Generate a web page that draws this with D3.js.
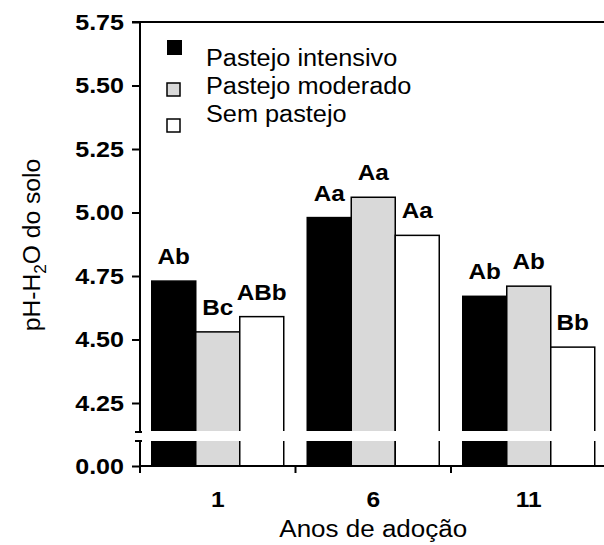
<!DOCTYPE html>
<html><head><meta charset="utf-8">
<script src="https://cdn.jsdelivr.net/npm/d3@7"></script>
<style>
body{margin:0;background:#fff;}
text{font-family:"Liberation Sans",Arial,sans-serif;}
</style></head>
<body><svg id="c" width="604" height="545"></svg>
<script>
const categories = ["1", "6", "11"];
const seriesNames = ["Pastejo intensivo", "Pastejo moderado", "Sem pastejo"];
const intensivo = [4.73, 4.98, 4.67];
const moderado = [4.53, 5.06, 4.71];
const semPastejo = [4.59, 4.91, 4.47];
const lettersIntensivo = ["Ab", "Aa", "Ab"];
const lettersModerado = ["Bc", "Aa", "Ab"];
const lettersSem = ["ABb", "Aa", "Bb"];
const upperTicks = [4.25, 4.50, 4.75, 5.00, 5.25, 5.50, 5.75];
const lowerTicks = [0.00];

const colors = ["#000000", "#d9d9d9", "#ffffff"];
const series = [intensivo, moderado, semPastejo];
const letters = [lettersIntensivo, lettersModerado, lettersSem];

const svg = d3.select("#c");
const left = 140, right = 606.5;
const x = d3.scaleBand().domain(categories).range([left, right]).paddingInner(0).paddingOuter(0);
const inner = d3.scaleBand().domain(d3.range(3)).range([11.75, x.bandwidth() - 11.75]);
const yU = d3.scaleLinear().domain([4.25, 5.75]).range([403, 22]);
const yL = d3.scaleLinear().domain([0, 0.1]).range([466, 441]);
const breakTop = 432, breakBot = 441;

function stretch(sel, f) {
  sel.each(function () {
    const len = this.getComputedTextLength();
    d3.select(this).attr("textLength", len * f).attr("lengthAdjust", "spacingAndGlyphs");
  });
}

// bars
categories.forEach((c, ci) => {
  series.forEach((s, si) => {
    const v = s[ci];
    const bx = x(c) + inner(si);
    svg.append("rect")
      .attr("x", bx).attr("y", yU(v))
      .attr("width", inner.bandwidth()).attr("height", yL(0) - yU(v))
      .attr("fill", colors[si]).attr("stroke", "#000").attr("stroke-width", 1.5);
    svg.append("text").attr("class", "blabel")
      .attr("x", bx + inner.bandwidth() / 2).attr("y", yU(v) - 17)
      .attr("text-anchor", "middle").attr("font-weight", "bold").attr("font-size", 21.5)
      .text(letters[si][ci]);
  });
});
stretch(svg.selectAll(".blabel"), 1.13);
// break gap
svg.append("rect").attr("x", left + 1.5).attr("y", breakTop - 1).attr("width", 604 - left)
  .attr("height", breakBot - breakTop + 1).attr("fill", "#fff");

// y axis upper
const gU = svg.append("g").attr("transform", `translate(${left},0)`)
  .call(d3.axisLeft(yU).tickValues(upperTicks).tickSize(8).tickPadding(8).tickFormat(d3.format(".2f")));
gU.select(".domain").remove();
gU.append("line").attr("x1", 0).attr("x2", 0).attr("y1", 22).attr("y2", breakTop).attr("stroke", "#000").attr("stroke-width", 2);
gU.append("line").attr("x1", -5).attr("x2", 2).attr("y1", breakTop).attr("y2", breakTop).attr("stroke", "#000").attr("stroke-width", 2);
// y axis lower
const gL = svg.append("g").attr("transform", `translate(${left},0)`)
  .call(d3.axisLeft(yL).tickValues(lowerTicks).tickSize(8).tickPadding(8).tickFormat(d3.format(".2f")));
gL.select(".domain").remove();
gL.append("line").attr("x1", 0).attr("x2", 0).attr("y1", breakBot).attr("y2", 473).attr("stroke", "#000").attr("stroke-width", 2);
gL.append("line").attr("x1", -5).attr("x2", 2).attr("y1", breakBot).attr("y2", breakBot).attr("stroke", "#000").attr("stroke-width", 2);
[gU, gL].forEach(g => {
  g.selectAll(".tick line").attr("stroke-width", 2);
  const t = g.selectAll(".tick text").attr("font-size", 22).attr("font-weight", "bold").attr("fill", "#000")
    .style("font-family", '"Liberation Sans",Arial,sans-serif');
  stretch(t, 1.14);
});

// top frame
svg.append("line").attr("x1", left - 8).attr("x2", 604).attr("y1", 22).attr("y2", 22).attr("stroke", "#000").attr("stroke-width", 2);

// x axis
const gX = svg.append("g").attr("transform", `translate(0,${yL(0)})`)
  .call(d3.axisBottom(x).tickSize(0).tickPadding(26));
gX.select(".domain").remove();
gX.append("line").attr("x1", left).attr("x2", 604).attr("y1", 0).attr("y2", 0).attr("stroke", "#000").attr("stroke-width", 2);
const xt = gX.selectAll(".tick text").attr("font-size", 21.5).attr("font-weight", "bold").attr("fill", "#000")
  .style("font-family", '"Liberation Sans",Arial,sans-serif');
stretch(xt, 1.14);
categories.slice(1).forEach(c => {
  gX.append("line").attr("x1", x(c)).attr("x2", x(c)).attr("y1", 0).attr("y2", 7).attr("stroke", "#000").attr("stroke-width", 2);
});

// titles
const xTitle = svg.append("text").attr("x", (left + right) / 2).attr("y", 537).attr("text-anchor", "middle")
  .attr("font-size", 23).text("Anos de adoção");
stretch(xTitle, 1.13);
const yt = svg.append("text").attr("transform", "translate(40,245) rotate(-90)").attr("text-anchor", "middle").attr("font-size", 23);
yt.append("tspan").text("pH-H");
yt.append("tspan").attr("font-size", 16).attr("dy", 6).text("2");
yt.append("tspan").attr("dy", -6).text("O do solo");
stretch(yt, 1.07);

// legend
const legSq = [{x:167,y:40,s:15},{x:167,y:83,s:13},{x:167,y:119,s:13}];
const legY = [66, 94, 122];
seriesNames.forEach((n, i) => {
  svg.append("rect").attr("x", legSq[i].x).attr("y", legSq[i].y).attr("width", legSq[i].s).attr("height", legSq[i].s)
    .attr("fill", colors[i]).attr("stroke", "#000").attr("stroke-width", i === 0 ? 0 : 1.5);
  const t = svg.append("text").attr("x", 206).attr("y", legY[i]).attr("font-size", 23).text(n);
  stretch(t, 1.1);
});
</script></body></html>
